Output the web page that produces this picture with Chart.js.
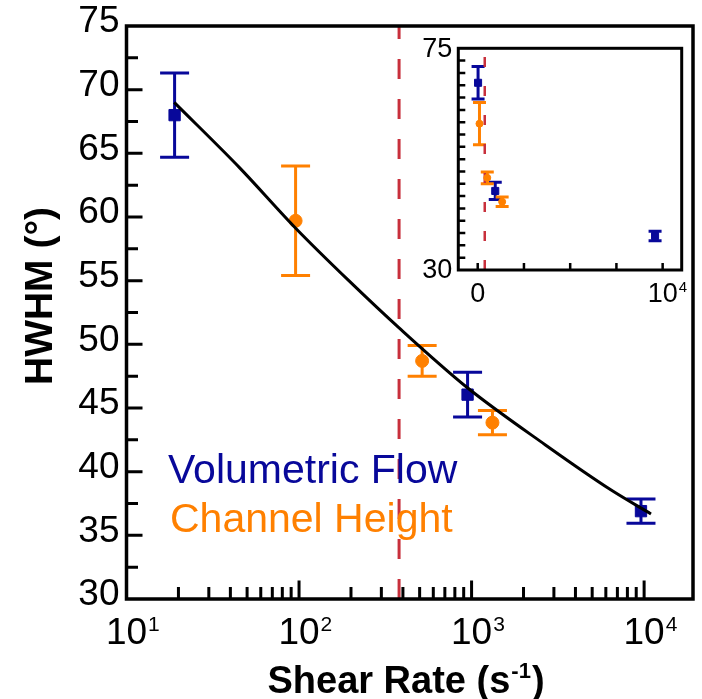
<!DOCTYPE html>
<html><head><meta charset="utf-8">
<script src="https://cdn.jsdelivr.net/npm/chart.js@4"></script>
<style>
html,body{margin:0;padding:0;background:#fff;}
#wrap{position:relative;width:702px;height:699px;overflow:hidden;}
#main{position:absolute;left:0;top:0;}
#inset{position:absolute;left:400px;top:28px;}
</style></head><body>
<div id="wrap"><canvas id="main" width="702" height="699"></canvas><canvas id="inset" width="302" height="290"></canvas></div>
<script>
// ---- data ----
const volShear = [19, 948, 9590];
const volHWHM  = [68.0, 46.05, 36.9];
const volErr   = [3.3, 1.75, 0.95];
const chShear  = [95.5, 517, 1321];
const chHWHM   = [59.7, 48.7, 43.85];
const chErr    = [4.3, 1.2, 0.95];
const fitShear = [18.9, 45.3, 95.3, 195, 380, 950, 2680, 6440, 10960];
const fitHWHM  = [69.0, 63.86, 59.14, 54.98, 51.29, 46.57, 42.10, 38.56, 36.68];
const criticalShear = 380;
const xDecades = [10, 100, 1000, 10000];
const xDecadeExp = ['1', '2', '3', '4'];
const yTicks = [30, 35, 40, 45, 50, 55, 60, 65, 70, 75];
const insetXTicks = [0, 2500, 5000, 7500, 10000];
const insetXLabels = [{v: 0, base: '0', sup: ''}, {v: 10000, base: '10', sup: '4'}];
const insetYLabels = [30, 75];
const legendLabels = ['Volumetric Flow', 'Channel Height'];

const BLUE = '#08089a', ORANGE = '#ff8000', RED = '#c8303c', FONT = '"Liberation Sans", Arial, sans-serif';

function pts(xs, ys) { return xs.map((x, i) => ({x: x, y: ys[i]})); }

function drawErrorBars(chart, cap, lw) {
  const ctx = chart.ctx, xs = chart.scales.x, ys = chart.scales.y;
  chart.data.datasets.forEach(ds => {
    if (!ds.errors) return;
    ctx.save();
    ctx.strokeStyle = ds.borderColor; ctx.lineWidth = lw; ctx.lineCap = 'butt';
    ds.data.forEach((p, i) => {
      const x = xs.getPixelForValue(p.x);
      const y1 = ys.getPixelForValue(p.y - ds.errors[i]);
      const y2 = ys.getPixelForValue(p.y + ds.errors[i]);
      ctx.beginPath();
      ctx.moveTo(x, y1); ctx.lineTo(x, y2);
      ctx.moveTo(x - cap, y1); ctx.lineTo(x + cap, y1);
      ctx.moveTo(x - cap, y2); ctx.lineTo(x + cap, y2);
      ctx.stroke();
    });
    ctx.restore();
  });
}

function drawSupText(ctx, base, sup, cx, baseline, size, supSize, raise, bold) {
  const w = bold ? 'bold ' : '';
  ctx.font = w + size + 'px ' + FONT;
  const bw = ctx.measureText(base).width;
  ctx.textAlign = 'left'; ctx.textBaseline = 'alphabetic';
  ctx.fillText(base, cx - bw / 2, baseline);
  if (sup) {
    ctx.font = w + supSize + 'px ' + FONT;
    ctx.fillText(sup, cx + bw / 2 + 1, baseline - raise);
  }
}

const mainDecor = {
  id: 'mainDecor',
  beforeDatasetsDraw(chart) { drawErrorBars(chart, 14.5, 3); },
  afterDatasetsDraw(chart) {
    const ctx = chart.ctx, a = chart.chartArea, xs = chart.scales.x, ys = chart.scales.y;
    ctx.save();
    ctx.strokeStyle = '#000'; ctx.lineWidth = 3;
    ctx.beginPath();
    yTicks.forEach((v, i) => {
      const y = ys.getPixelForValue(v);
      if (i > 0 && i < yTicks.length - 1) { ctx.moveTo(a.left, y); ctx.lineTo(a.left + 16, y); }
      if (i < yTicks.length - 1) {
        const ym = ys.getPixelForValue(v + 2.5);
        ctx.moveTo(a.left, ym); ctx.lineTo(a.left + 11.5, ym);
      }
    });
    xDecades.forEach(d => {
      const x = xs.getPixelForValue(d);
      if (d > xs.min) { ctx.moveTo(x, a.bottom); ctx.lineTo(x, a.bottom - 18.5); }
      for (let k = 2; k <= 9; k++) {
        const v = k * d;
        if (v >= xs.max) break;
        const xm = xs.getPixelForValue(v);
        ctx.moveTo(xm, a.bottom); ctx.lineTo(xm, a.bottom - 12);
      }
    });
    ctx.stroke();
    ctx.lineWidth = 3.5;
    ctx.strokeRect(a.left, a.top, a.right - a.left, a.bottom - a.top);
    ctx.restore();
  },
  afterDraw(chart) {
    const ctx = chart.ctx, xs = chart.scales.x;
    ctx.save();
    ctx.fillStyle = '#000';
    xDecades.forEach((d, i) => {
      drawSupText(ctx, '10', xDecadeExp[i], xs.getPixelForValue(d), 644, 37, 21, 13, false);
    });
    ctx.font = 'bold 38px ' + FONT;
    const p1 = 'Shear Rate (s', p3 = ')';
    const w1 = ctx.measureText(p1).width, w3 = ctx.measureText(p3).width;
    ctx.font = 'bold 22px ' + FONT;
    const p2 = '-1', w2 = ctx.measureText(p2).width;
    let x0 = 406 - (w1 + w2 + w3 + 2) / 2;
    ctx.textAlign = 'left'; ctx.textBaseline = 'alphabetic';
    ctx.font = 'bold 38px ' + FONT; ctx.fillText(p1, x0, 693);
    ctx.font = 'bold 22px ' + FONT; ctx.fillText(p2, x0 + w1 + 1, 693 - 15);
    ctx.font = 'bold 38px ' + FONT; ctx.fillText(p3, x0 + w1 + w2 + 2, 693);
    ctx.save();
    ctx.translate(52, 296); ctx.rotate(-Math.PI / 2);
    ctx.font = 'bold 39px ' + FONT; ctx.textAlign = 'center';
    ctx.fillText('HWHM (\u00B0)', 0, 0);
    ctx.restore();
    ctx.font = '41px ' + FONT; ctx.textAlign = 'left';
    ctx.fillStyle = BLUE; ctx.fillText(legendLabels[0], 168, 483);
    ctx.fillStyle = ORANGE; ctx.fillText(legendLabels[1], 170, 532);
    ctx.restore();
  }
};

new Chart(document.getElementById('main'), {
  data: {
    datasets: [
      {type: 'line', data: pts(fitShear, fitHWHM), borderColor: '#000', borderWidth: 3, pointRadius: 0,
       cubicInterpolationMode: 'monotone', fill: false, order: 0},
      {type: 'scatter', data: pts(volShear, volHWHM), errors: volErr, borderColor: BLUE, backgroundColor: BLUE,
       pointStyle: 'rect', pointRadius: 8, pointBorderWidth: 1, order: 1},
      {type: 'scatter', data: pts(chShear, chHWHM), errors: chErr, borderColor: ORANGE, backgroundColor: ORANGE,
       pointStyle: 'circle', pointRadius: 6.5, pointBorderWidth: 1, order: 2},
      {type: 'line', data: [{x: criticalShear, y: 30}, {x: criticalShear, y: 75}], borderColor: RED, borderWidth: 3,
       borderDash: [20, 20], pointRadius: 0, fill: false, order: 3}
    ]
  },
  options: {
    responsive: false, animation: false, devicePixelRatio: 1, events: [],
    layout: {padding: {left: 0, right: 7, top: 26, bottom: 0}},
    plugins: {legend: {display: false}, tooltip: {enabled: false}},
    scales: {
      x: {type: 'logarithmic', min: 10, max: 19200,
          ticks: {display: false}, grid: {display: false, drawTicks: false}, border: {display: false},
          afterFit(s) { s.height = 100; }},
      y: {type: 'linear', min: 30, max: 75,
          afterBuildTicks(s) { s.ticks = yTicks.map(v => ({value: v})); },
          ticks: {color: '#000', font: {family: FONT, size: 37, lineHeight: 0.9}, padding: 7, labelOffset: -4},
          grid: {display: false, drawTicks: false}, border: {display: false},
          afterFit(s) { s.width = 126.5; }}
    }
  },
  plugins: [mainDecor]
});

const insetDecor = {
  id: 'insetDecor',
  beforeDatasetsDraw(chart) { drawErrorBars(chart, 6.5, 3); },
  afterDatasetsDraw(chart) {
    const ctx = chart.ctx, a = chart.chartArea, xs = chart.scales.x, ys = chart.scales.y;
    ctx.save();
    ctx.strokeStyle = '#000'; ctx.lineWidth = 2.5;
    ctx.beginPath();
    for (let v = 32.5; v < 75; v += 2.5) {
      const y = ys.getPixelForValue(v);
      ctx.moveTo(a.left, y); ctx.lineTo(a.left + 7, y);
    }
    insetXTicks.forEach(v => {
      const x = xs.getPixelForValue(v);
      ctx.moveTo(x, a.bottom); ctx.lineTo(x, a.bottom - 7);
    });
    ctx.stroke();
    ctx.lineWidth = 3;
    ctx.strokeRect(a.left, a.top, a.right - a.left, a.bottom - a.top);
    ctx.restore();
  },
  afterDraw(chart) {
    const ctx = chart.ctx, a = chart.chartArea, xs = chart.scales.x, ys = chart.scales.y;
    ctx.save();
    ctx.fillStyle = '#000';
    ctx.font = '27px ' + FONT; ctx.textAlign = 'right'; ctx.textBaseline = 'middle';
    insetYLabels.forEach(v => ctx.fillText(String(v), a.left - 6, ys.getPixelForValue(v) + 1));
    insetXLabels.forEach(l => drawSupText(ctx, l.base, l.sup, xs.getPixelForValue(l.v), 274, 27, 15, 10, false));
    ctx.restore();
  }
};

new Chart(document.getElementById('inset'), {
  data: {
    datasets: [
      {type: 'scatter', data: pts(volShear, volHWHM), errors: volErr, borderColor: BLUE, backgroundColor: BLUE,
       pointStyle: 'rect', pointRadius: 5, pointBorderWidth: 1, order: 1},
      {type: 'scatter', data: pts(chShear, chHWHM), errors: chErr, borderColor: ORANGE, backgroundColor: ORANGE,
       pointStyle: 'circle', pointRadius: 3.5, pointBorderWidth: 1, order: 2},
      {type: 'line', data: [{x: criticalShear, y: 30}, {x: criticalShear, y: 75}], borderColor: RED, borderWidth: 2.5,
       borderDash: [10, 19], pointRadius: 0, fill: false, order: 3}
    ]
  },
  options: {
    responsive: false, animation: false, devicePixelRatio: 1, events: [],
    layout: {padding: {left: 0, right: 20.3, top: 20.3, bottom: 0}},
    plugins: {legend: {display: false}, tooltip: {enabled: false}},
    scales: {
      x: {type: 'linear', min: -1050, max: 11030,
          ticks: {display: false}, grid: {display: false, drawTicks: false}, border: {display: false},
          afterFit(s) { s.height = 48; }},
      y: {type: 'linear', min: 30, max: 75,
          ticks: {display: false}, grid: {display: false, drawTicks: false}, border: {display: false},
          afterFit(s) { s.width = 58.3; }}
    }
  },
  plugins: [insetDecor]
});
</script>
</body></html>
